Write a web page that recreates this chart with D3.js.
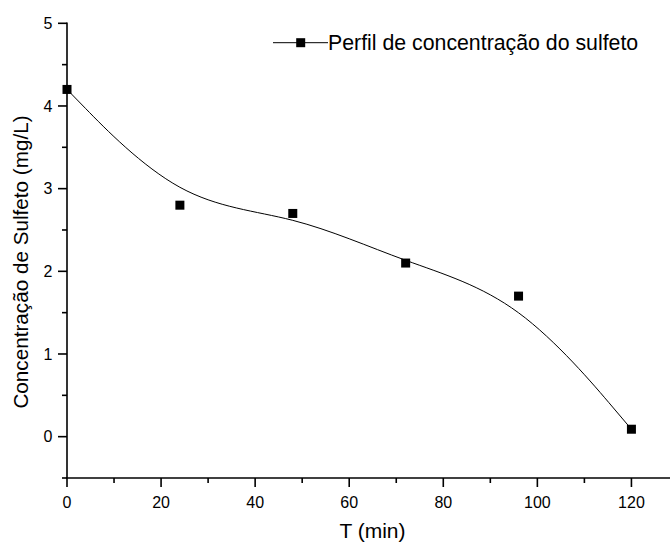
<!DOCTYPE html>
<html>
<head>
<meta charset="utf-8">
<script src="https://cdn.jsdelivr.net/npm/d3@7"></script>
<style>
  html, body { margin: 0; padding: 0; background: #fff; }
  svg { display: block; font-family: "Liberation Sans", Arial, Helvetica, sans-serif; }
</style>
</head>
<body>
<svg id="chart" width="670" height="546"></svg>
<script>
// ---- data ----
const times = [0, 24, 48, 72, 96, 120];
const sulfide = [4.2, 2.8, 2.7, 2.1, 1.7, 0.09];
const xTicks = [0, 20, 40, 60, 80, 100, 120];
const xMinorTicks = [10, 30, 50, 70, 90, 110];
const yTicks = [0, 1, 2, 3, 4, 5];
const yMinorTicks = [-0.5, 0.5, 1.5, 2.5, 3.5, 4.5];
const seriesName = "Perfil de concentração do sulfeto";
const xTitle = "T (min)";
const yTitle = "Concentração de Sulfeto (mg/L)";

const data = times.map((t, i) => ({ t, v: sulfide[i] }));

const svg = d3.select("#chart");
const mLeft = 67, mRight = 670, mTop = 23.3, mBottom = 478;

const x = d3.scaleLinear().domain([0, 128.2]).range([mLeft, mRight]);
const y = d3.scaleLinear().domain([-0.5, 5]).range([mBottom, mTop]);

// x axis
const gx = svg.append("g").attr("transform", `translate(0,${mBottom})`);
gx.append("line").attr("x1", mLeft - 1).attr("x2", mRight).attr("y1", 0).attr("y2", 0)
  .attr("stroke", "#000").attr("stroke-width", 1.6);
gx.selectAll("line.maj").data(xTicks).join("line").attr("class", "maj")
  .attr("x1", d => x(d)).attr("x2", d => x(d)).attr("y1", 0).attr("y2", 9)
  .attr("stroke", "#000").attr("stroke-width", 1.6);
gx.selectAll("line.min").data(xMinorTicks).join("line").attr("class", "min")
  .attr("x1", d => x(d)).attr("x2", d => x(d)).attr("y1", 0).attr("y2", 5)
  .attr("stroke", "#000").attr("stroke-width", 1.6);
gx.selectAll("text").data(xTicks).join("text")
  .attr("x", d => x(d)).attr("y", 29.5).attr("text-anchor", "middle")
  .attr("font-size", 16).attr("fill", "#000").text(d => d);

// y axis
const gy = svg.append("g");
gy.append("line").attr("x1", mLeft).attr("x2", mLeft).attr("y1", mTop - 0.8).attr("y2", mBottom)
  .attr("stroke", "#000").attr("stroke-width", 1.6);
gy.selectAll("line.maj").data(yTicks).join("line").attr("class", "maj")
  .attr("x1", mLeft - 9).attr("x2", mLeft).attr("y1", d => y(d)).attr("y2", d => y(d))
  .attr("stroke", "#000").attr("stroke-width", 1.6);
gy.selectAll("line.min").data(yMinorTicks).join("line").attr("class", "min")
  .attr("x1", mLeft - 5).attr("x2", mLeft).attr("y1", d => y(d)).attr("y2", d => y(d))
  .attr("stroke", "#000").attr("stroke-width", 1.6);
gy.selectAll("text").data(yTicks).join("text")
  .attr("x", mLeft - 14.5).attr("y", d => y(d) + 5.7).attr("text-anchor", "end")
  .attr("font-size", 16).attr("fill", "#000").text(d => d);

// titles
svg.append("text").attr("x", 372.5).attr("y", 538).attr("text-anchor", "middle")
  .attr("font-size", 21).attr("fill", "#000").text(xTitle);
svg.append("text").attr("transform", "translate(27.5,262) rotate(-90)")
  .attr("text-anchor", "middle").attr("font-size", 20.7).attr("fill", "#000").text(yTitle);

// B-spline curve through data control points
const line = d3.line().x(d => x(d.t)).y(d => y(d.v)).curve(d3.curveBasis);
svg.append("path").datum(data).attr("d", line)
  .attr("fill", "none").attr("stroke", "#000").attr("stroke-width", 1);

// markers
const ms = 9;
svg.selectAll("rect.pt").data(data).join("rect").attr("class", "pt")
  .attr("x", d => x(d.t) - ms / 2).attr("y", d => y(d.v) - ms / 2)
  .attr("width", ms).attr("height", ms).attr("fill", "#000");

// legend
const lg = svg.append("g");
lg.append("line").attr("x1", 273).attr("x2", 328).attr("y1", 42.7).attr("y2", 42.7)
  .attr("stroke", "#000").attr("stroke-width", 1);
lg.append("rect").attr("x", 300.7 - ms / 2).attr("y", 42.7 - ms / 2)
  .attr("width", ms).attr("height", ms).attr("fill", "#000");
lg.append("text").attr("x", 328).attr("y", 50).attr("font-size", 21.3).attr("fill", "#000")
  .text(seriesName);
</script>
</body>
</html>
